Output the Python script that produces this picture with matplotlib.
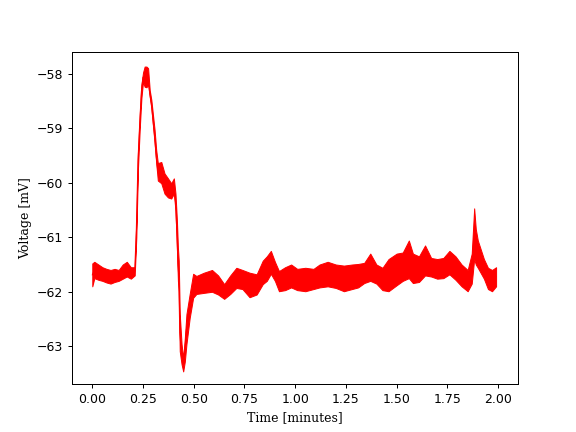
import numpy as np
import matplotlib
matplotlib.use('Agg')
import matplotlib.pyplot as plt

time_min = [0.000, 0.010, 0.030, 0.050, 0.070, 0.090, 0.110, 0.130, 0.150, 0.170,
            0.190, 0.209, 0.217, 0.225, 0.234, 0.242, 0.250, 0.258, 0.267, 0.275,
            0.283, 0.291, 0.307, 0.315, 0.323, 0.340, 0.356, 0.373, 0.389, 0.402,
            0.410, 0.417, 0.422, 0.426, 0.431, 0.440, 0.448, 0.456, 0.464, 0.480,
            0.497, 0.513, 0.550, 0.590, 0.620, 0.650, 0.680, 0.710, 0.740, 0.775,
            0.810, 0.840, 0.860, 0.880, 0.900, 0.920, 0.950, 0.980, 1.010, 1.050,
            1.090, 1.120, 1.160, 1.200, 1.240, 1.280, 1.310, 1.340, 1.370, 1.400,
            1.430, 1.460, 1.500, 1.530, 1.560, 1.580, 1.610, 1.640, 1.670, 1.700,
            1.730, 1.760, 1.790, 1.820, 1.850, 1.870, 1.882, 1.890, 1.900, 1.930,
            1.950, 1.970, 1.990]

volt_low = [-61.90, -61.75, -61.78, -61.80, -61.83, -61.85, -61.82, -61.80, -61.76, -61.72,
            -61.76, -61.70, -61.00, -59.75, -59.00, -58.45, -58.15, -58.24, -58.25, -58.20,
            -58.42, -58.63, -59.27, -59.64, -59.96, -60.01, -60.20, -60.27, -60.29, -60.20,
            -60.51, -61.19, -61.80, -61.99, -63.09, -63.33, -63.46, -63.28, -62.96, -62.48,
            -62.11, -62.04, -62.02, -62.00, -62.05, -62.13, -62.04, -61.93, -61.95, -62.10,
            -62.05, -61.86, -61.80, -61.67, -61.80, -61.99, -61.97, -61.92, -61.97, -61.99,
            -61.95, -61.92, -61.90, -61.93, -61.99, -61.95, -61.92, -61.84, -61.80, -61.85,
            -61.97, -61.99, -61.88, -61.80, -61.75, -61.84, -61.82, -61.70, -61.72, -61.76,
            -61.75, -61.68, -61.78, -61.90, -61.99, -61.85, -61.40, -61.50, -61.56, -61.76,
            -61.95, -61.99, -61.90]

volt_high = [-61.48, -61.45, -61.50, -61.55, -61.58, -61.60, -61.58, -61.60, -61.50, -61.45,
             -61.55, -61.55, -60.70, -59.45, -58.75, -58.20, -57.98, -57.87, -57.87, -57.90,
             -58.30, -58.48, -59.03, -59.40, -59.64, -59.62, -59.83, -59.92, -60.01, -59.92,
             -60.20, -60.69, -61.19, -61.43, -62.41, -62.96, -63.22, -62.85, -62.41, -62.04,
             -61.67, -61.71, -61.65, -61.60, -61.70, -61.86, -61.70, -61.56, -61.60, -61.65,
             -61.68, -61.43, -61.35, -61.25, -61.45, -61.62, -61.55, -61.50, -61.58, -61.56,
             -61.58, -61.50, -61.45, -61.50, -61.52, -61.50, -61.49, -61.47, -61.30, -61.50,
             -61.56, -61.40, -61.30, -61.28, -61.06, -61.30, -61.35, -61.15, -61.38, -61.40,
             -61.38, -61.25, -61.35, -61.50, -61.60, -61.30, -60.47, -60.85, -61.06, -61.40,
             -61.56, -61.60, -61.55]

t = np.array(time_min)
lo = np.array(volt_low)
hi = np.array(volt_high)

plt.rcParams['font.family'] = 'DejaVu Sans'
fig, ax = plt.subplots(figsize=(6.4, 4.8), dpi=90)

ax.fill_between(t, lo, hi, color='red', linewidth=0.8, edgecolor='red')
ax.plot(t, (lo + hi) / 2, color='red', linewidth=0.8)

ax.set_xticks([0.0, 0.25, 0.5, 0.75, 1.0, 1.25, 1.5, 1.75, 2.0])
ax.set_xlim(-0.1, 2.1)
ax.set_ylim(-63.70, -57.60)
ax.set_xlabel('Time [minutes]', family='DejaVu Serif')
ax.set_ylabel('Voltage [mV]', family='DejaVu Serif')

plt.savefig('out.png', dpi=90)
